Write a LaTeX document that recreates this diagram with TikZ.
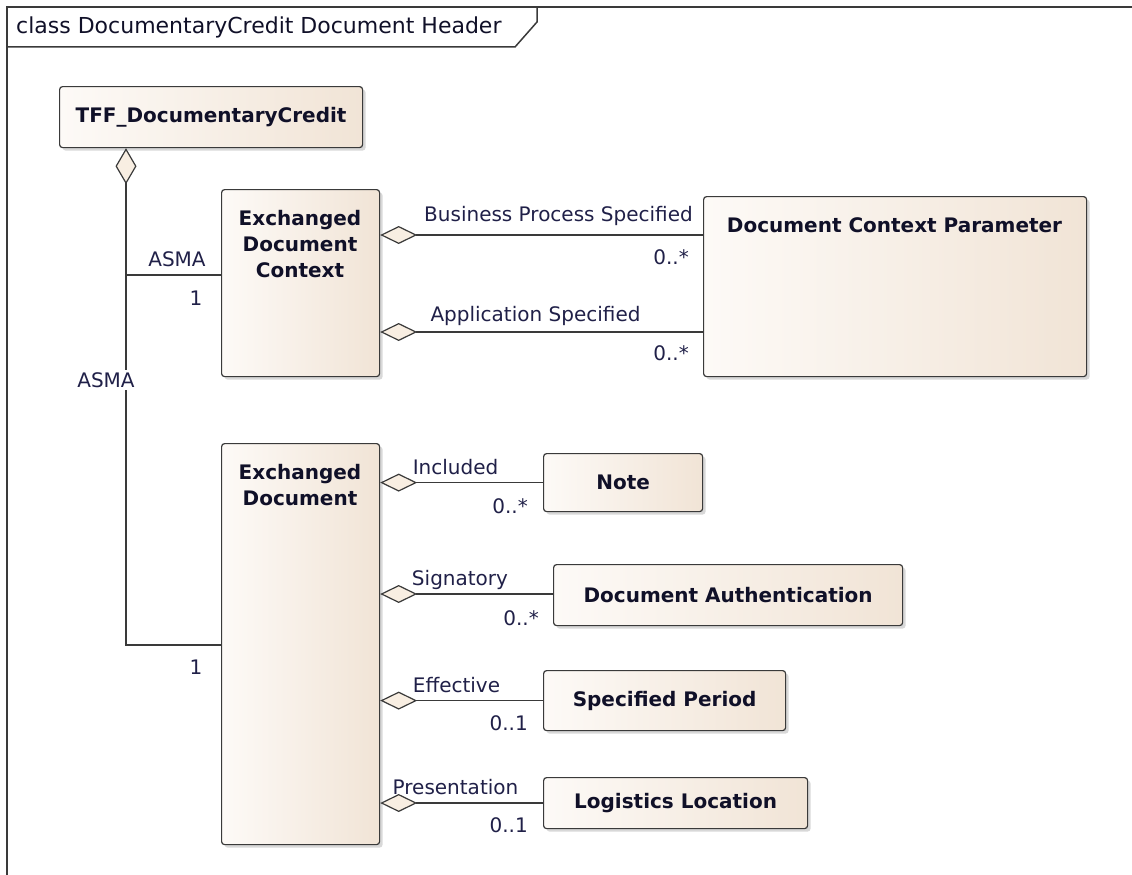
\documentclass[tikz,border=0pt]{standalone}
\usepackage{fontspec}
\setmainfont{DejaVu Sans}
\usetikzlibrary{arrows.meta,shadows}
\definecolor{linec}{HTML}{3A3A3A}
\definecolor{fillL}{HTML}{FDFAF7}
\definecolor{fillR}{HTML}{F1E4D6}
\definecolor{dfill}{HTML}{F8EEE2}
\definecolor{labc}{HTML}{202048}
\definecolor{nodec}{HTML}{101028}
\tikzset{
  cls/.style={draw=linec, line width=1.2pt, rounded corners=3pt, left color=fillL, right color=fillR,
    inner sep=0pt, anchor=north west,
    drop shadow={shadow xshift=3pt, shadow yshift=-3pt, fill=black!30, opacity=0.5}},
  ttl/.style={font=\bfseries\fontsize{20}{26}\selectfont, text=nodec, align=center, inner sep=0pt},
  lab/.style={font=\fontsize{20}{24}\selectfont, text=labc, inner sep=0pt},
  conn/.style={draw=linec, line width=1.2pt},
  agg/.style={conn, {Diamond[length=37pt, width=18pt, fill=dfill, line width=1.2pt]}-},
}
\begin{document}
\begin{tikzpicture}[x=1pt, y=-1pt]
\useasboundingbox (0,0) rectangle (1132,875);
% frame
\draw[draw=linec, line width=1.5pt] (7,875) -- (7,7) -- (1132,7);
\draw[draw=linec, line width=1.5pt] (7,47) -- (515,47) -- (537,22) -- (537,7);
\node[font=\fontsize{22}{26}\selectfont, text=nodec, anchor=west, inner sep=0pt] (hdr) at (16,27) {class DocumentaryCredit Document Header};

% classes
\node[cls, minimum width=303pt, minimum height=61pt] (tff) at (59,86) {};
\node[ttl] (tfft) at (tff.center) {TFF\_DocumentaryCredit};

\node[cls, minimum width=158pt, minimum height=187pt] (edc) at (221,189) {};
\node[ttl] (edct) at (300,244) {Exchanged\\Document\\Context};

\node[cls, minimum width=383pt, minimum height=180pt] (dcp) at (703,196) {};
\node[ttl] (dcpt) at (894.5,225) {Document Context Parameter};

\node[cls, minimum width=158pt, minimum height=401pt] (ed) at (221,443) {};
\node[ttl] (edt) at (300,485.5) {Exchanged\\Document};

\node[cls, minimum width=159pt, minimum height=58pt] (note) at (543,453) {};
\node[ttl] (notet) at (note.center) {Note};

\node[cls, minimum width=349pt, minimum height=61pt] (da) at (553,564) {};
\node[ttl] (dat) at (da.center) {Document Authentication};

\node[cls, minimum width=242pt, minimum height=60pt] (sp) at (543,670) {};
\node[ttl] (spt) at (sp.center) {Specified Period};

\node[cls, minimum width=264pt, minimum height=51pt] (ll) at (543,777) {};
\node[ttl] (llt) at (ll.center) {Logistics Location};

% TFF aggregation connectors
\coordinate (j1) at (126,275);
\coordinate (j2) at (126,645);
\draw[conn, line width=2.4pt, {Diamond[length=36pt, width=21pt, fill=dfill, line width=1.2pt]}-] (tff.south -| j1) -- (j1);
\draw[conn] (j1) -- (edc.west |- j1);
\draw[conn] (j1) -- (j2) -- (ed.west |- j2);

% EDC -> DCP
\coordinate (r1) at (0,235);
\coordinate (r2) at (0,332);
\draw[agg] (edc.east |- r1) -- (dcp.west |- r1);
\draw[agg] (edc.east |- r2) -- (dcp.west |- r2);

% ED -> others
\draw[agg] (ed.east |- note.west) -- (note.west);
\coordinate (r3) at (0,594);
\draw[agg] (ed.east |- r3) -- (da.west |- r3);
\draw[agg] (ed.east |- sp.west) -- (sp.west);
\coordinate (r4) at (0,803);
\draw[agg] (ed.east |- r4) -- (ll.west |- r4);

% labels
\node[lab] (l1) at (177,259) {ASMA};
\node[lab] (l2) at (196,298) {1};
\node[lab, fill=white, inner sep=2pt] (l3) at (106,380) {ASMA};
\node[lab] (l4) at (196,667) {1};

\node[lab] (l5) at (558.5,216) {Business Process Specified};
\node[lab, anchor=east] (l6) at (689,257) {0..*};
\node[lab] (l7) at (535.5,316) {Application Specified};
\node[lab, anchor=east] (l8) at (689,353) {0..*};

\node[lab] (l9) at (455.5,467) {Included};
\node[lab, anchor=east] (l10) at (528,506) {0..*};
\node[lab] (l11) at (460,580) {Signatory};
\node[lab, anchor=east] (l12) at (539,618) {0..*};
\node[lab] (l13) at (456.5,685) {Effective};
\node[lab, anchor=east] (l14) at (528,723) {0..1};
\node[lab] (l15) at (455.5,787) {Presentation};
\node[lab, anchor=east] (l16) at (528,825) {0..1};
\end{tikzpicture}
\end{document}
